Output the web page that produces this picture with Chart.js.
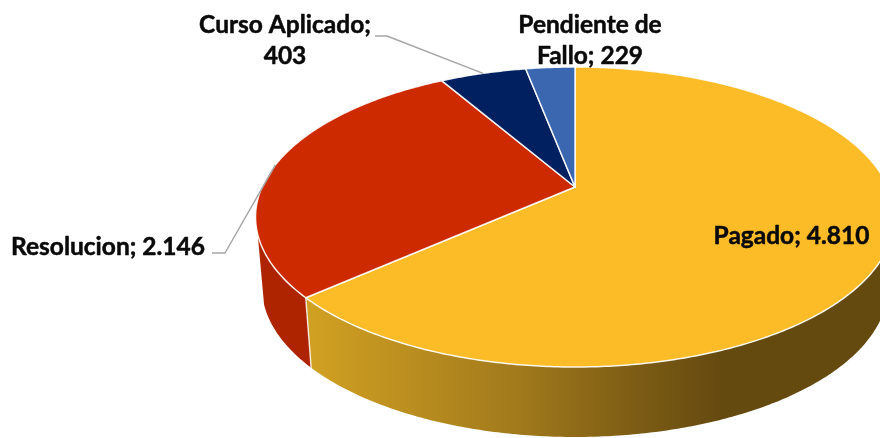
<!DOCTYPE html>
<html>
<head>
<meta charset="utf-8">
<style>
  html, body { margin: 0; padding: 0; background: #fff; overflow: hidden; }
  canvas { display: block; }
</style>
<script src="https://cdn.jsdelivr.net/npm/chart.js@4/dist/chart.umd.min.js"></script>
</head>
<body>
<canvas id="pieChart" width="880" height="438"></canvas>
<script>
// Chart data, in the order Excel drew it (clockwise from 12 o'clock)
const categories = ['Pagado', 'Resolucion', 'Curso Aplicado', 'Pendiente de Fallo'];
const amounts = [4810, 2146, 403, 229];
const sliceColors = ['#FBBC28', '#CD2A00', '#002060', '#3A67B0'];
const valueLabels = ['4.810', '2.146', '403', '229'];

// Projection of the tilted disc onto the page
const view = { cx: 575, cy: 187, rx: 313, ry: 144, tilt: 0.2, depth: 70, shrink: 0.98 };

// The wall stops where the disc's outline turns away from the viewer
const wallEdges = { left: 162 * Math.PI / 180, right: 11 * Math.PI / 180 };

// Where each label sits, and the line split of its text
const labelLayout = [
  { lines: ['Pagado; ' + valueLabels[0]], x: 791.5, y: 244 },
  { lines: ['Resolucion; ' + valueLabels[1]], x: 108, y: 255, leader: [[212, 253], [225, 253]] },
  { lines: ['Curso Aplicado;', valueLabels[2]], x: 285, y: 33, leader: [[375, 36], [387, 36]] },
  { lines: ['Pendiente de', 'Fallo; ' + valueLabels[3]], x: 590, y: 33 }
];

function project(angle, lower) {
  const u = Math.cos(angle);
  const v = Math.sin(angle);
  const w = 1 - view.tilt * v;
  if (lower) {
    return [view.cx + view.shrink * view.rx * u / w, view.cy + view.depth + view.ry * v / w];
  }
  return [view.cx + view.rx * u / w, view.cy + view.ry * v / w];
}

function traceRim(ctx, from, to, lower) {
  const steps = Math.max(2, Math.ceil(Math.abs(to - from) / 0.01));
  for (let i = 0; i <= steps; i++) {
    const p = project(from + (to - from) * i / steps, lower);
    ctx.lineTo(p[0], p[1]);
  }
}

function drawWall(ctx, from, to, fill) {
  ctx.beginPath();
  traceRim(ctx, from, to, false);
  traceRim(ctx, to, from, true);
  ctx.closePath();
  ctx.fillStyle = fill;
  ctx.fill();
}

function goldGradient(ctx) {
  const grad = ctx.createLinearGradient(313, 0, 720, 0);
  grad.addColorStop(0, '#D0A022');
  grad.addColorStop(0.5, '#A27A1C');
  grad.addColorStop(0.8, '#7C5C14');
  grad.addColorStop(1, '#654A10');
  return grad;
}

// Replaces the flat arcs with the 3D look, still using the angles the pie controller worked out
const pie3d = {
  id: 'pie3d',
  beforeDatasetDraw(chart, args) {
    const ctx = chart.ctx;
    const arcs = args.meta.data;
    const seam = arcs[0].endAngle;
    ctx.save();
    ctx.lineJoin = 'round';

    // side walls first, only the two front slices show
    drawWall(ctx, seam, wallEdges.left, '#AE2400');
    drawWall(ctx, wallEdges.right, seam, goldGradient(ctx));

    // seam between the two walls
    const seamTop = project(seam, false);
    const seamBottom = project(seam, true);
    ctx.beginPath();
    ctx.moveTo(seamTop[0], seamTop[1]);
    ctx.lineTo(seamBottom[0], seamBottom[1]);
    ctx.strokeStyle = 'rgba(255,255,255,0.8)';
    ctx.lineWidth = 1.5;
    ctx.stroke();

    // top faces
    arcs.forEach((arc, i) => {
      ctx.beginPath();
      ctx.moveTo(view.cx, view.cy);
      traceRim(ctx, arc.startAngle, arc.endAngle, false);
      ctx.closePath();
      ctx.fillStyle = sliceColors[i];
      ctx.fill();
      ctx.strokeStyle = 'rgba(255,255,255,0.9)';
      ctx.lineWidth = 1.5;
      ctx.stroke();
    });

    // leader lines run from the label to the middle of the slice's rim
    ctx.strokeStyle = '#A6A6A6';
    ctx.lineWidth = 1.5;
    labelLayout.forEach((item, i) => {
      if (!item.leader) return;
      const end = project((arcs[i].startAngle + arcs[i].endAngle) / 2, false);
      ctx.beginPath();
      item.leader.forEach((p) => ctx.lineTo(p[0], p[1]));
      ctx.lineTo(end[0], end[1]);
      ctx.stroke();
    });

    // labels, Lato bold is a little lighter than the original so it gets a thin outline
    ctx.fillStyle = '#0A0A0A';
    ctx.strokeStyle = '#0A0A0A';
    ctx.lineWidth = 0.5;
    ctx.font = 'bold 24.5px Lato';
    ctx.textAlign = 'center';
    ctx.textBaseline = 'alphabetic';
    labelLayout.forEach((item) => {
      item.lines.forEach((line, n) => {
        ctx.fillText(line, item.x, item.y + n * 31);
        ctx.strokeText(line, item.x, item.y + n * 31);
      });
    });

    ctx.restore();
    return false;
  }
};

const chart = new Chart(document.getElementById('pieChart').getContext('2d'), {
  type: 'pie',
  data: {
    labels: categories,
    datasets: [{ data: amounts, backgroundColor: sliceColors }]
  },
  options: {
    responsive: false,
    animation: false,
    plugins: {
      legend: { display: false },
      tooltip: { enabled: false }
    }
  },
  plugins: [pie3d]
});
</script>
</body>
</html>
